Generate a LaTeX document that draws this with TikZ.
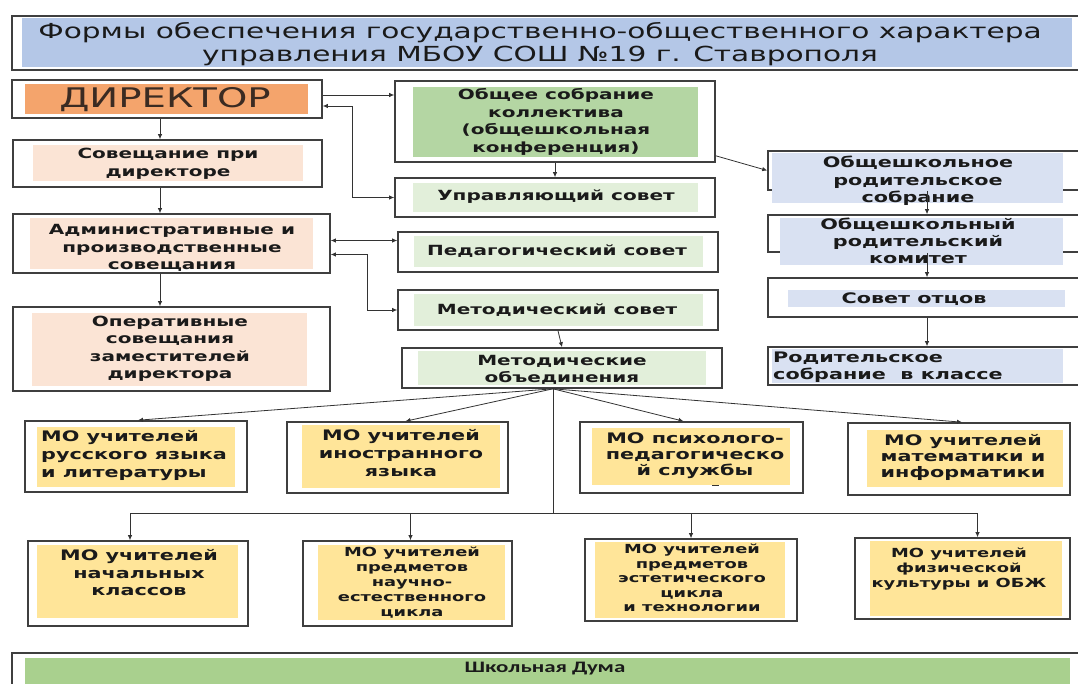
\documentclass[tikz,border=0pt]{standalone}
\usepackage{fontspec}
\setmainfont{DejaVu Sans}[FakeStretch=1.43]
\newfontfamily\dumafont{Carlito}[FakeStretch=1.43]
\usetikzlibrary{arrows.meta,fit}
\definecolor{frm}{HTML}{3F3F3F}
\definecolor{ac}{HTML}{333333}
\definecolor{txc}{HTML}{1A1A1A}
\definecolor{dirc}{HTML}{3B2B22}
\definecolor{tb}{HTML}{B4C7E7}
\definecolor{orng}{HTML}{F4A46C}
\definecolor{pch}{HTML}{FBE4D5}
\definecolor{grn}{HTML}{B4D6A3}
\definecolor{lgrn}{HTML}{E2EFDA}
\definecolor{blu}{HTML}{D9E1F2}
\definecolor{yel}{HTML}{FFE599}
\definecolor{dgrn}{HTML}{A9D08E}
\begin{document}
\begin{tikzpicture}[x=1pt,y=-1pt,
 frame/.style={draw=frm,line width=1.6pt,inner sep=0pt},
 fb/.style={inner sep=0pt,draw=none,fill=#1},
 tx/.style 2 args={inner sep=0pt,align=center,text=txc,font=\bfseries\fontsize{#1}{#2}\selectfont},
 ln/.style={draw=ac,line width=0.8pt},
 arr/.style={ln,-{Latex[length=5pt,width=4.5pt]}},
 dbl/.style={ln,{Latex[length=5pt,width=4.5pt]}-{Latex[length=5pt,width=4.5pt]}}]
\useasboundingbox (0,0) rectangle (1078,684);
\fill[white] (0,0) rectangle (1078,684);
% title
\node[frame,fit={(12,16) (1090,70)}] (tit) {};
\node[fb=tb,fit={(22,18) (1072,67)}] (titF) {};
\node[inner sep=0pt,align=center,text=txc,font=\fontsize{20.7}{23}\selectfont] (titT) at (540,44) {Формы обеспечения государственно-общественного характера\\управления МБОУ СОШ №19 г. Ставрополя};
% left column
\node[frame,fit={(12,80) (322,118)}] (dir) {};
\node[fb=orng,fit={(25,84) (308,114)}] (dirF) {};
\node[inner sep=0pt,text=dirc,font=\fontsize{27}{30}\selectfont] (dirT) at (165,100) {ДИРЕКТОР};
\node[frame,fit={(13,140) (322,187)}] (sov) {};
\node[fb=pch,fit={(33,145) (303,181)}] (sovF) {};
\node[tx={14}{17.5}] (sovT) at (168,164) {Совещание при\\директоре};
\node[frame,fit={(13,214) (330,273)}] (adm) {};
\node[fb=pch,fit={(30,218) (313,269)}] (admF) {};
\node[tx={14}{17.5}] (admT) at (172,248) {Административные и\\производственные\\совещания};
\node[frame,fit={(13,307) (330,391)}] (oper) {};
\node[fb=pch,fit={(32,313) (307,386)}] (operF) {};
\node[tx={14}{17.5}] (operT) at (170,349) {Оперативные\\совещания\\заместителей\\директора};
% center column
\node[frame,fit={(395,81) (715,162)}] (obs) {};
\node[fb=grn,fit={(413,87) (698,157)}] (obsF) {};
\node[tx={14}{17.5}] (obsT) at (556,122) {Общее собрание\\коллектива\\(общешкольная\\конференция)};
\node[frame,fit={(395,178) (715,217)}] (upr) {};
\node[fb=lgrn,fit={(413,183) (698,212)}] (uprF) {};
\node[tx={14}{17.5}] (uprT) at (556,197) {Управляющий совет};
\node[frame,fit={(398,232) (718,272)}] (ped) {};
\node[fb=lgrn,fit={(414,236) (703,267)}] (pedF) {};
\node[tx={14}{17.5}] (pedT) at (557,251) {Педагогический совет};
\node[frame,fit={(398,290) (718,330)}] (mets) {};
\node[fb=lgrn,fit={(414,294) (703,326)}] (metsF) {};
\node[tx={14}{17.5}] (metsT) at (557,310) {Методический совет};
\node[frame,fit={(402,348) (722,388)}] (mob) {};
\node[fb=lgrn,fit={(418,351) (706,385)}] (mobF) {};
\node[tx={14}{17.5}] (mobT) at (562,370) {Методические\\объединения};
% right column
\node[frame,fit={(768,151) (1090,190)}] (ors) {};
\node[fb=blu,fit={(772,153) (1063,203)}] (orsF) {};
\node[tx={14.5}{17.5}] (orsT) at (918,181) {Общешкольное\\родительское\\собрание};
\node[frame,fit={(768,215) (1090,252)}] (ork) {};
\node[fb=blu,fit={(780,218) (1063,265)}] (orkF) {};
\node[tx={14.5}{17}] (orkT) at (918,241) {Общешкольный\\родительский\\комитет};
\node[frame,fit={(768,278) (1090,317)}] (otc) {};
\node[fb=blu,fit={(788,290) (1065,307)}] (otcF) {};
\node[tx={14.5}{17}] (otcT) at (914,299) {Совет отцов};
\node[frame,fit={(768,347) (1090,385)}] (rod) {};
\node[fb=blu,fit={(772,349) (1063,383)}] (rodF) {};
\node[tx={14.5}{17},anchor=west,align=left] (rodT) at (773,367) {Родительское\\собрание\ \ в классе};
% MO row 1
\node[frame,fit={(25,421) (247,492)}] (r1) {};
\node[fb=yel,fit={(37,427) (235,487)}] (r1F) {};
\node[tx={14.5}{18},anchor=west,align=left] (r1T) at (41,456) {МО учителей\\русского языка\\и литературы};
\node[frame,fit={(287,422) (508,493)}] (r2) {};
\node[fb=yel,fit={(302,425) (500,488)}] (r2F) {};
\node[tx={14.5}{18}] (r2T) at (401,453) {МО учителей\\иностранного\\языка};
\node[frame,fit={(580,422) (803,493)}] (r3) {};
\node[fb=yel,fit={(592,428) (790,485)}] (r3F) {};
\node[tx={14.5}{16}] (r3T) at (695,456) {МО психолого-\\педагогическо\\й службы};
\draw[ln,line width=0.6pt] (712,485) -- (719,485);
\node[frame,fit={(848,423) (1070,495)}] (r4) {};
\node[fb=yel,fit={(867,430) (1063,487)}] (r4F) {};
\node[tx={14.5}{16}] (r4T) at (963,457) {МО учителей\\математики и\\информатики};
% MO row 2
\node[frame,fit={(28,541) (248,626)}] (s1) {};
\node[fb=yel,fit={(37,545) (238,618)}] (s1F) {};
\node[tx={14.5}{17.5}] (s1T) at (139,573) {МО учителей\\начальных\\классов};
\node[frame,fit={(303,541) (512,626)}] (s2) {};
\node[fb=yel,fit={(318,545) (505,620)}] (s2F) {};
\node[tx={12.5}{15}] (s2T) at (412,583) {МО учителей\\предметов\\научно-\\естественного\\цикла};
\node[frame,fit={(585,539) (797,621)}] (s3) {};
\node[fb=yel,fit={(595,542) (785,618)}] (s3F) {};
\node[tx={12.5}{14.5}] (s3T) at (692,578) {МО учителей\\предметов\\эстетического\\цикла\\и технологии};
\node[frame,fit={(855,538) (1070,619)}] (s4) {};
\node[fb=yel,fit={(870,541) (1062,616)}] (s4F) {};
\node[tx={12.5}{15}] (s4T) at (959,569) {МО учителей\\физической\\культуры и ОБЖ};
% school duma
\node[frame,fit={(12,653) (1090,695)}] (duma) {};
\node[fb=dgrn,fit={(25,658) (1070,684)}] (dumaF) {};
\node[inner sep=0pt,text=txc,font=\dumafont\bfseries\fontsize{16}{18}\selectfont] (dumaT) at (545,669) {Школьная Дума};
% connectors
\coordinate (ax) at (160,0);
\draw[arr] (dir.south -| ax) -- (sov.north -| ax);
\draw[arr] (sov.south -| ax) -- (adm.north -| ax);
\draw[arr] (adm.south -| ax) -- (oper.north -| ax);
\draw[arr] ([yshift=4pt]dir.east) -- ([yshift=4pt]dir.east -| obs.west);
\draw[dbl] ([yshift=-7pt]dir.east) -- ++(30,0) |- (upr.west);
\draw[arr] (obs.south) -- (upr.north);
\draw[arr] ([yshift=7pt]obs.south east) -- (ors.west);
\draw[dbl] ([yshift=3pt]adm.east) -- ([yshift=3pt]adm.east -| ped.west);
\draw[dbl] ([yshift=-11pt]adm.east) -- ++(37,0) |- (mets.west);
\draw[arr] (mets.south) -- (mob.north);
\coordinate (px) at (927,0);
\draw[arr] (ors.south -| px) -- (ork.north -| px);
\draw[arr] (ork.south -| px) -- (otc.north -| px);
\draw[arr] (otc.south -| px) -- (rod.north -| px);
\coordinate (hub) at ([xshift=-9pt]mob.south);
\foreach \t/\d in {r1/2,r2/8,r3/-8,r4/3} \draw[arr] (hub) -- ([xshift=\d pt]\t.north);
\coordinate (bus) at (0,513);
\draw[ln] (hub) -- (hub |- bus);
\draw[ln] ([xshift=-8pt]s1.north |- bus) -- ([xshift=15pt]s4.north |- bus);
\foreach \t/\d in {s1/-8,s2/3,s3/0,s4/15} \draw[arr] ([xshift=\d pt]\t.north |- bus) -- ([xshift=\d pt]\t.north);
\end{tikzpicture}
\end{document}
